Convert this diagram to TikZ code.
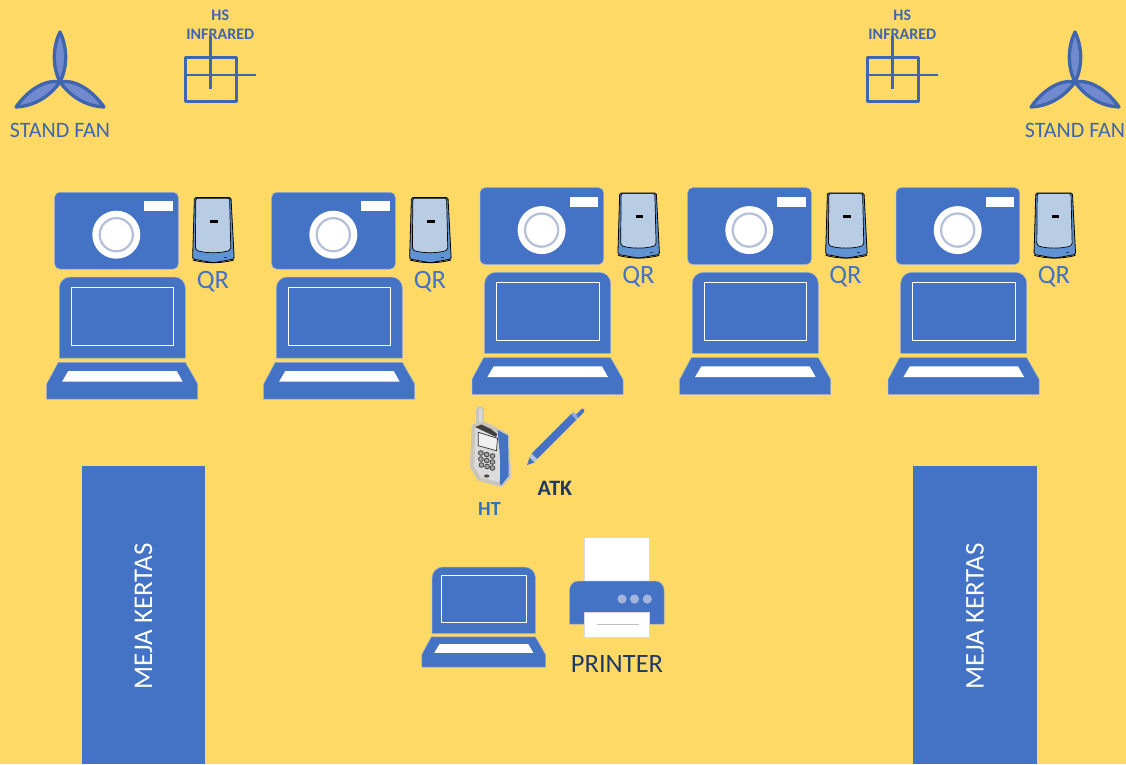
\documentclass[tikz,border=0pt]{standalone}
\usepackage{fontspec}
\setmainfont{Carlito}
\definecolor{bgc}{HTML}{FFD966}
\definecolor{bluec}{HTML}{4472C4}
\definecolor{edgec}{HTML}{8FAADC}
\definecolor{darkb}{HTML}{3F65AE}
\definecolor{petal}{HTML}{7189CF}
\definecolor{lensc}{HTML}{B4C0D8}
\definecolor{scanl}{HTML}{B8CCE4}
\definecolor{scanm}{HTML}{5F93D3}
\definecolor{navyc}{HTML}{1F3864}
\definecolor{htc}{HTML}{2E75B6}
\definecolor{haloc}{HTML}{C9C7BC}
\definecolor{dotc}{HTML}{A3B5DC}
\newcommand{\fsz}[1]{\fontsize{#1}{#1}\selectfont}
\tikzset{
  bluefill/.style={fill=bluec,draw=edgec,line width=.5pt},
  whitefill/.style={fill=white,draw=none},
  fanpetal/.style={fill=petal,draw=darkb,line width=3.3pt,line join=round},
  hsline/.style={draw=darkb,line width=3pt},
  thinline/.style={draw=darkb,line width=2.5pt},
  fanlabel/.style={text=darkb,font=\fsz{22}},
  hslabel/.style={text=darkb,font=\bfseries\fsz{16}},
  qrlabel/.style={text=bluec,font=\fsz{26.5}},
  mejalabel/.style={text=white,font=\fsz{27},rotate=90},
  laptopicon/.pic={
    \path[bluefill] (12.3,81) [rounded corners=11pt] -- (12.3,0) -- (138.3,0) [sharp corners] -- (138.3,81) -- cycle;
    \draw[white,line width=.8pt,fill=bluec] (24,10.3) rectangle (126.7,68);
    \path[bluefill] (11.3,85.3) -- (138.3,85.3) -- (150.7,107) -- (150.7,122) -- (-.3,122) -- (-.3,107) -- cycle;
    \path[whitefill] (21.3,94) -- (129.7,94) -- (135.7,104.7) -- (15,104.7) -- cycle;
  },
  cameraicon/.pic={
    \path[bluefill,rounded corners=5pt] (0,0) rectangle (123.6,76.7);
    \path[whitefill] (89.6,9) rectangle (118.3,19);
    \fill[white] (61.6,42.4) circle (24);
    \draw[lensc,line width=2.2pt] (61.6,42.4) circle (16.6);
  },
  scannericon/.pic={
    \draw[black,line width=.8pt,fill=scanm,rounded corners=1.5pt]
      (2,0.5) -- (38.6,0.5) -- (41.8,62) -- (21,65.8) -- (0.2,62) -- cycle;
    \draw[black,line width=.7pt,fill=scanl,rounded corners=2pt]
      (3.4,1.2) -- (37.2,1.2) -- (38.4,53) .. controls (28,56.4) and (13,56.4) .. (3,53) -- cycle;
    \draw[black,line width=.8pt] (0.3,63) .. controls (14,66.6) and (28,66.6) .. (41.7,63);
    \fill[black] (18,22.6) rectangle (25.2,25.8);
    \fill[navyc] (32,59.6) rectangle (35,60.4);
  },
}
\begin{document}
\begin{tikzpicture}[x=1pt,y=-1pt]
\useasboundingbox (0,0) rectangle (1126,764);
\fill[bgc] (0,0) rectangle (1126,764);

% stand fans
\foreach \fx/\fname in {60/fanl,1075/fanr}{
  \begin{scope}[shift={(\fx,82)}]
    \path[fanpetal] (0,0) .. controls (-9,-18) and (-6,-38) .. (0,-50) .. controls (6,-38) and (9,-18) .. (0,0) -- cycle;
    \path[fanpetal] (0,0) .. controls (15,-3) and (32,8) .. (44,25) .. controls (25,24) and (10,14) .. (0,0) -- cycle;
    \path[fanpetal] (0,0) .. controls (-15,-3) and (-32,8) .. (-44,25) .. controls (-25,24) and (-10,14) .. (0,0) -- cycle;
  \end{scope}
  \node[fanlabel] (\fname) at (\fx,130.5) {STAND FAN};
}

% HS infrared
\foreach \hx/\hname in {0/hsl,682/hsr}{
  \begin{scope}[shift={(\hx,0)}]
    \path[hsline,line join=round] (185.3,57) rectangle (236,101.5);
    \path[thinline] (185,75) -- (255.5,75);
    \path[thinline] (210.5,36) -- (210.5,88.5);
    \node[hslabel] (\hname a) at (220.3,15) {HS};
    \node[hslabel] (\hname b) at (220.3,34) {INFRARED};
  \end{scope}
}

% five stations
\foreach \sx/\sy/\qx/\sname in {47/277/213/s1,264/277/430/s2,472.3/272.4/638.5/s3,680/272.4/845.5/s4,888.4/272.4/1054/s5}{
  \pic at (\sx,\sy) {laptopicon};
  \pic at (\sx+7.7,\sy-84.7) {cameraicon};
  \pic at (\sx+145.4,\sy-80) {scannericon};
  \node[qrlabel] (\sname) at (\qx,\sy+4.5) {QR};
}

% meja
\fill[bluec] (81.5,466) rectangle (205,764);
\fill[bluec] (913,466) rectangle (1037,764);
\node[mejalabel] (mejal) at (143.5,616.5) {MEJA KERTAS};
\node[mejalabel] (mejar) at (975,616.5) {MEJA KERTAS};

% HT phone
\begin{scope}[shift={(472,0)},xscale=1.05,shift={(-472,0)}]
\draw[haloc,line width=8pt,line cap=round] (479.5,410) -- (479.5,424);
\draw[white!85!black,line width=3.5pt,line cap=round] (480,410) -- (480,424);
\draw[haloc,line width=4pt,line join=round,fill=white!86!black]
  (473.5,426) -- (483,423.5) -- (505,435) -- (507.5,476) -- (500,485) -- (479,479) -- (472,467) -- cycle;
\fill[bluec] (496.3,430) -- (506.3,435.7) -- (507,475.7) -- (500,485) -- (498.5,484) .. controls (499,470) and (499,455) .. (498,449) -- cycle;
\fill[black!75] (475,427) -- (481,424.5) -- (490,429) -- (496,434) -- (495,437) -- cycle;
\draw[black!80,line width=.7pt,fill=white!94!black] (478,432.3) -- (496.3,438.3) -- (495.3,450.7) -- (478,445.7) -- cycle;
\foreach \kx/\ky in {480.5/453,486/454.5,491.5/456,480.5/459,486/460.5,491.5/462,481/465,486.5/466.5,491.5/468}
  \draw[black!70,line width=.9pt,fill=white!65!black] (\kx,\ky) circle (2.3);
\fill[black!70] (486,476) ellipse (2.6 and 1.6);
\end{scope}
\node[text=htc,font=\bfseries\fsz{20}] (ht) at (489.5,509) {HT};

% ATK pencil
\path[fill=bluec] (576,414.5) -- (582,408.5) .. controls (584,408.5) and (585,410) .. (584,412) -- (578,418) -- cycle;
\fill[edgec] (573,412) -- (576,414.5) -- (578,418) -- (576,420) -- (571,414.5) -- cycle;
\fill[bluec] (571,414) -- (576,420) -- (537,459) -- (531.5,453.5) -- cycle;
\fill[edgec!70!white] (531.5,453.5) -- (537,459) -- (534.5,462.5) -- (529.5,457) -- cycle;
\fill[bluec] (527,465) -- (529.5,457.5) -- (534.5,462.5) -- cycle;
\node[text=navyc,font=\bfseries\fsz{22}] (atk) at (555,488) {ATK};

% centre laptop
\pic[scale=.82] at (422,567) {laptopicon};

% printer
\path[fill=white,draw=black!15,line width=.6pt] (584,537) rectangle (649,582);
\path[bluefill] (569.5,624) [rounded corners=9pt] -- (569.5,581) -- (664,581) [sharp corners] -- (664,624) -- cycle;
\path[fill=white,draw=black!15,line width=.6pt] (584,612.5) rectangle (649,637);
\draw[black!25,line width=.7pt] (596.7,624.3) -- (638.7,624.3);
\foreach \dx in {622,634.5,647.3} \fill[dotc] (\dx,599) circle (4.6);
\node[text=navyc,font=\fsz{26.5}] (printer) at (617,664) {PRINTER};
\end{tikzpicture}
\end{document}
